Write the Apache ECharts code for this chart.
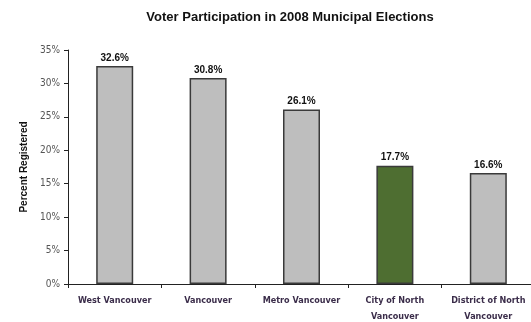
<!DOCTYPE html>
<html>
<head>
<meta charset="utf-8">
<script src="https://cdn.jsdelivr.net/npm/echarts@6/dist/echarts.min.js"></script>
<style>
html,body{margin:0;padding:0;background:#fff;}
#chart{width:531px;height:322px;}
</style>
</head>
<body>
<div id="chart"></div>
<script>
var categories = ['West Vancouver', 'Vancouver', 'Metro Vancouver', 'City of North\nVancouver', 'District of North\nVancouver'];
var participation = [32.6, 30.8, 26.1, 17.7, 16.6];
var highlightIndex = 3;

var dom = document.getElementById("chart");
var myChart = echarts.init(dom);
var option = {
	animation: false,
	title: {
		text: 'Voter Participation in 2008 Municipal Elections',
		left: 285,
		textAlign: 'center',
		top: 6,
		textStyle: {
			fontFamily: 'Liberation Sans',
			fontSize: 13,
			fontWeight: 'bold',
			color: '#111'
		}
	},
	grid: {
		left: 68,
		top: 50,
		bottom: 38,
		width: 467,
		outerBoundsMode: 'none',
		containLabel: false
	},
	xAxis: {
		type: 'category',
		data: categories,
		axisLine: { lineStyle: { color: '#222', width: 1 } },
		axisTick: { show: true, length: 4, lineStyle: { color: '#222' } },
		axisLabel: {
			interval: 0,
			margin: 9,
			lineHeight: 16,
			fontFamily: 'DejaVu Sans Condensed',
			fontSize: 9,
			fontWeight: 'bold',
			color: '#3b2d4a'
		}
	},
	yAxis: {
		type: 'value',
		min: 0,
		max: 35,
		interval: 5,
		name: 'Percent Registered',
		nameLocation: 'middle',
		nameGap: 37,
		nameTextStyle: {
			fontFamily: 'Liberation Sans',
			fontSize: 10,
			fontWeight: 'bold',
			color: '#111'
		},
		axisLine: { show: true, lineStyle: { color: '#222' } },
		axisTick: { show: true, length: 4, inside: false, lineStyle: { color: '#222' } },
		splitLine: { show: false },
		axisLabel: {
			formatter: '{value}%',
			margin: 8,
			fontFamily: 'DejaVu Sans Condensed',
			fontSize: 10,
			color: '#555'
		}
	},
	series: [
		{
			name: 'Participation',
			type: 'bar',
			barWidth: 37,
			data: participation.map(function (v, i) {
				return {
					value: v,
					itemStyle: { color: i === highlightIndex ? '#4e6e31' : '#bebebe' }
				};
			}),
			itemStyle: {
				borderColor: '#3a3a3a',
				borderWidth: 1.5
			},
			label: {
				show: true,
				position: 'top',
				distance: 3,
				formatter: function (p) { return p.value.toFixed(1) + '%'; },
				fontFamily: 'Liberation Sans',
				fontSize: 10,
				fontWeight: 'bold',
				color: '#111'
			}
		}
	]
};
if (option && typeof option === "object") {
	myChart.setOption(option, true);
}
</script>
</body>
</html>
